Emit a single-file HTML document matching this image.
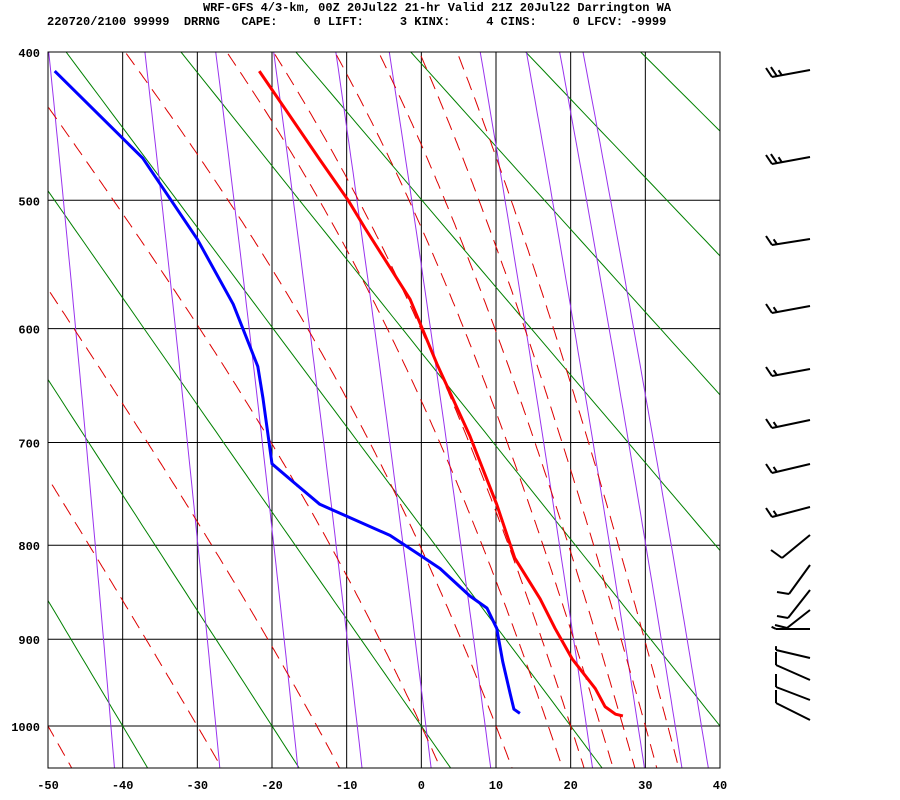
<!DOCTYPE html>
<html><head><meta charset="utf-8"><style>
body{margin:0;background:#fff;}
svg{display:block;font-family:"Liberation Mono",monospace;}
</style></head><body>
<svg id="chart" width="900" height="800" viewBox="0 0 900 800" xmlns="http://www.w3.org/2000/svg">
<text x="437" y="11" font-size="12" font-weight="bold" text-anchor="middle">WRF-GFS 4/3-km, 00Z 20Jul22 21-hr Valid 21Z 20Jul22 Darrington WA</text>
<text x="47" y="25" font-size="12" font-weight="bold" xml:space="preserve">220720/2100 99999  DRRNG   CAPE:     0 LIFT:     3 KINX:     4 CINS:     0 LFCV: -9999</text>
<defs><clipPath id="pc"><rect x="48" y="52" width="672" height="716"/></clipPath></defs>
<g id="grid" clip-path="url(#pc)"></g>
<g id="prof" clip-path="url(#pc)"></g>
<rect x="48" y="52" width="672" height="716" fill="none" stroke="#000" stroke-width="1"/>
<g id="axes"></g>
<g id="barbs"></g>
</svg>
<script>
const tempTicks=[-50,-40,-30,-20,-10,0,10,20,30,40];
const presTicks=[400,500,600,700,800,900,1000];
const thetaDry=[233.15,253.15,273.15,293.15,313.15,333.15,353.15,373.15,393.15,413.15,433.15];
const thetaW=[-50,-30,-14,0,10,17,20,24,27,30,33];
const mixRatios=[0.1,0.4,1,2,4,7,17,26,35,43];
const tempT=[-21.7,-13.6,-9.8,-7.5,-1.5,2.1,6.5,10.1,12.5,15.9,17.9,20.2,23.3,24.6,26.0,27.0];
const tempP=[412,471,500,521,576,630,694,759,813,856,888,922,956,977,986,988];
const dewT=[-49.1,-37.3,-30,-25.2,-21.9,-21.2,-20,-17.2,-13.6,-4.2,-0.2,2.5,6.5,8.8,10.1,10.9,11.9,12.4,13.2];
const dewP=[412,470,529,580,632,660,720,737,759,790,810,824,853,866,888,925,962,980,985];
// wind barbs: base y, tip x, tip y, feather dx, feather dy, full, half
const barbY=[70,157,239,306,369,420,464,507,535,565,590,610,629,658,680,700,720];
const barbTip=[[772,77],[772,164],[772,245],[772,313],[772,376],[772,428],[772,473],[772,517],[782,558],[789,594],[788,618],[787,628],[776,629],[776,650],[776,665],[776,687],[776,703]];
const barbFeather=[[-6,-9],[-6,-9],[-6,-9],[-6,-9],[-6,-9],[-6,-9],[-6,-9],[-6,-9],[-11,-8],[-12,-2],[-11,-2],[-12,-3],[-8,-4],[0,-7],[0,-13],[0,-13],[0,-13]];
const barbCount=[[2,1],[2,1],[1,1],[1,1],[1,1],[1,1],[1,1],[1,1],[1,0],[1,0],[1,0],[1,0],[0,1],[0,1],[1,0],[1,0],[1,0]];

const K=0.286;
const X0=48,X1=720,Y0=52,Y1=768;
const U400=Math.pow(400,K),U1000=Math.pow(1000,K);
const pxPerU=(726-52)/(U1000-U400);
function xS(t){return X0+(t+50)*(X1-X0)/90;}
function yS(p){return Y0+(Math.pow(p,K)-U400)*pxPerU;}
const NS='http://www.w3.org/2000/svg';
function mk(tag,attrs,parent){const e=document.createElementNS(NS,tag);for(const k in attrs)e.setAttribute(k,attrs[k]);parent.appendChild(e);return e;}
function es(tc){return 6.112*Math.exp(17.67*tc/(tc+243.5));}
const grid=document.getElementById('grid'),prof=document.getElementById('prof'),axes=document.getElementById('axes'),barbs=document.getElementById('barbs');
const pTop=390,pBot=1060;
function pathFrom(pts){return pts.map((q,i)=>(i?'L':'M')+xS(q[0]).toFixed(1)+' '+yS(q[1]).toFixed(1)).join(' ');}
presTicks.forEach(p=>{
 const l=mk('line',{x1:X0,x2:X1,y1:yS(p),y2:yS(p),stroke:'#000','stroke-width':1},grid);
 
 
 const t=mk('text',{x:40,y:yS(p)+5,'font-size':12,'font-weight':'bold','text-anchor':'end'},axes);
 t.textContent=p;
 
 
});
tempTicks.forEach(tc=>{
 const l=mk('line',{x1:xS(tc),x2:xS(tc),y1:Y0,y2:Y1,stroke:'#000','stroke-width':1},grid);
 
 
 const t=mk('text',{x:xS(tc),y:789,'font-size':12,'font-weight':'bold','text-anchor':'middle'},axes);
 t.textContent=tc;
 
 
});
thetaDry.forEach(th=>{
 const pts=[];for(let p=pTop;p<=pBot;p+=10)pts.push([th*Math.pow(p/1000,K)-273.15,p]);
 const e=mk('path',{d:pathFrom(pts),fill:'none',stroke:'#008000','stroke-width':1},grid);
 
 
});
mixRatios.forEach(w=>{
 const pts=[];for(let p=pTop;p<=pBot;p+=10){const e=w/1000*p/(0.622+w/1000);const a=Math.log(e/6.112);pts.push([243.5*a/(17.67-a),p]);}
 const e=mk('path',{d:pathFrom(pts),fill:'none',stroke:'#9933ee','stroke-width':1},grid);
 
 
});
function dTdp(T,p){const tc=T-273.15;const rs=0.622*es(tc)/(p-es(tc));const Rd=287,cp=1004,Lv=2.5e6;
 return (Rd*T+Lv*rs)/(p*(cp+Lv*Lv*rs*0.622/(Rd*T*T)));}
thetaW.forEach(tw=>{
 let up=[],dn=[];let T=tw+273.15;
 for(let p=1000;p>=pTop;p-=2){up.push([T-273.15,p]);T-=dTdp(T,p)*2;}
 T=tw+273.15;
 for(let p=1000;p<=pBot;p+=2){dn.push([T-273.15,p]);T+=dTdp(T,p)*2;}
 const pts=up.reverse().concat(dn.slice(1));
 const e=mk('path',{d:pathFrom(pts),fill:'none',stroke:'#dd0000','stroke-width':1,'stroke-dasharray':'14 8'},grid);
 
 
});
const tp=mk('path',{d:pathFrom(tempT.map((t,i)=>[t,tempP[i]])),fill:'none',stroke:'#ff0000','stroke-width':3,'stroke-linejoin':'round'},prof);


const dp=mk('path',{d:pathFrom(dewT.map((t,i)=>[t,dewP[i]])),fill:'none',stroke:'#0000ff','stroke-width':3,'stroke-linejoin':'round'},prof);


barbY.forEach((by,i)=>{
 const g=mk('g',{stroke:'#000','stroke-width':2,fill:'none'},barbs);
 
 
 const bx=810,tx=barbTip[i][0],ty=barbTip[i][1];
 mk('line',{x1:bx,y1:by,x2:tx,y2:ty},g);
 const L=Math.hypot(bx-tx,by-ty),ux=(bx-tx)/L,uy=(by-ty)/L;
 const [fx,fy]=barbFeather[i];const [nf,nh]=barbCount[i];
 let k=0;
 for(let j=0;j<nf;j++,k++){const sx=tx+ux*5*k,sy=ty+uy*5*k;mk('line',{x1:sx,y1:sy,x2:sx+fx,y2:sy+fy},g);}
 for(let j=0;j<nh;j++,k++){const sx=tx+ux*5*k,sy=ty+uy*5*k;mk('line',{x1:sx,y1:sy,x2:sx+fx*0.55,y2:sy+fy*0.55},g);}
});
</script>
</body></html>
